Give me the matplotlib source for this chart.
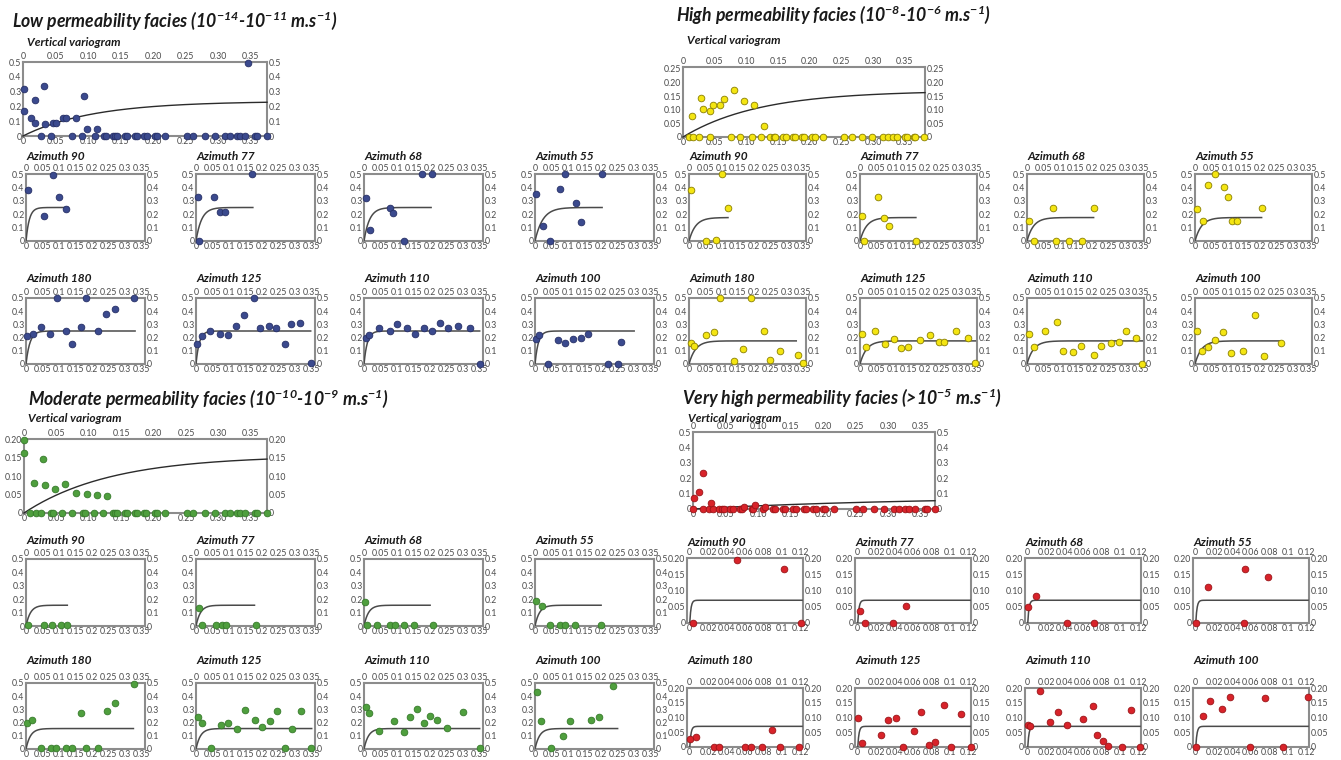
import matplotlib
matplotlib.use("Agg")
import matplotlib.pyplot as plt
import numpy as np

# ---------------- DATA ----------------
# Vertical variograms: non-zero experimental points + lags where the value is zero
low_vert_x = [0.002, 0.002, 0.012, 0.018, 0.019, 0.032, 0.034, 0.046, 0.050, 0.061, 0.066, 0.082, 0.094, 0.098, 0.114, 0.346]
low_vert_y = [0.32, 0.17, 0.12, 0.09, 0.24, 0.34, 0.08, 0.09, 0.09, 0.12, 0.12, 0.12, 0.27, 0.05, 0.05, 0.49]
low_vert_zero = [0.028, 0.043, 0.075, 0.090, 0.110, 0.124, 0.128, 0.139, 0.142, 0.145, 0.157, 0.160, 0.172, 0.175,
                 0.186, 0.190, 0.203, 0.206, 0.219, 0.252, 0.262, 0.280, 0.295, 0.311, 0.318, 0.329, 0.334, 0.341,
                 0.357, 0.359, 0.375]

high_vert_x = [0.014, 0.028, 0.031, 0.043, 0.047, 0.059, 0.064, 0.080, 0.097, 0.112, 0.128]
high_vert_y = [0.078, 0.144, 0.103, 0.094, 0.118, 0.118, 0.138, 0.172, 0.132, 0.118, 0.040]
high_vert_zero = [0.009, 0.016, 0.025, 0.042, 0.075, 0.090, 0.109, 0.123, 0.137, 0.143, 0.145, 0.158, 0.163, 0.173,
                  0.177, 0.188, 0.191, 0.204, 0.208, 0.221, 0.254, 0.266, 0.283, 0.299, 0.315, 0.323, 0.331, 0.338,
                  0.350, 0.354, 0.364, 0.367, 0.380]

mod_vert_x = [0.000, 0.000, 0.016, 0.029, 0.032, 0.048, 0.063, 0.080, 0.097, 0.112, 0.128]
mod_vert_y = [0.198, 0.162, 0.080, 0.145, 0.075, 0.064, 0.078, 0.053, 0.051, 0.050, 0.045]
mod_vert_zero = [0.009, 0.019, 0.026, 0.041, 0.044, 0.058, 0.074, 0.091, 0.094, 0.108, 0.122, 0.138, 0.140, 0.143,
                 0.156, 0.159, 0.171, 0.174, 0.185, 0.189, 0.202, 0.205, 0.218, 0.251, 0.261, 0.279, 0.295, 0.310,
                 0.318, 0.328, 0.333, 0.341, 0.357, 0.359, 0.375]

vh_vert_x = [0.001, 0.009, 0.015, 0.028, 0.078, 0.095, 0.110]
vh_vert_y = [0.071, 0.111, 0.233, 0.038, 0.011, 0.027, 0.016]
vh_vert_zero = [0.000, 0.015, 0.025, 0.031, 0.040, 0.044, 0.048, 0.057, 0.062, 0.073, 0.076, 0.090, 0.092, 0.107,
                0.123, 0.126, 0.138, 0.141, 0.154, 0.158, 0.170, 0.174, 0.185, 0.189, 0.200, 0.203, 0.217, 0.251,
                0.261, 0.278, 0.293, 0.309, 0.316, 0.326, 0.332, 0.341, 0.357, 0.359, 0.372]

# Vertical model (exponential): sill, practical range
vert_sill = {"low": 0.235, "high": 0.17, "mod": 0.155, "vh": 0.08}
vert_range = {"low": 0.32, "high": 0.36, "mod": 0.40, "vh": 1.0}

azimuths = [90, 77, 68, 55, 180, 125, 110, 100]

# Low permeability facies, azimuthal variograms
low_90_x = [0.005, 0.054, 0.083, 0.100, 0.120]
low_90_y = [0.38, 0.19, 0.49, 0.33, 0.24]
low_77_x = [0.005, 0.010, 0.053, 0.073, 0.088, 0.170]
low_77_y = [0.33, 0.00, 0.33, 0.22, 0.22, 0.50]
low_68_x = [0.007, 0.018, 0.078, 0.088, 0.120, 0.175, 0.205]
low_68_y = [0.32, 0.085, 0.245, 0.21, 0.00, 0.50, 0.50]
low_55_x = [0.003, 0.023, 0.044, 0.076, 0.091, 0.125, 0.139, 0.203]
low_55_y = [0.35, 0.11, 0.00, 0.39, 0.50, 0.28, 0.14, 0.50]
low_180_x = [0.002, 0.020, 0.046, 0.073, 0.093, 0.120, 0.140, 0.167, 0.180, 0.218, 0.243, 0.270, 0.327]
low_180_y = [0.21, 0.23, 0.28, 0.23, 0.50, 0.25, 0.15, 0.28, 0.50, 0.25, 0.38, 0.42, 0.50]
low_125_x = [0.002, 0.017, 0.043, 0.073, 0.096, 0.122, 0.144, 0.174, 0.195, 0.220, 0.241, 0.269, 0.286, 0.316, 0.347]
low_125_y = [0.15, 0.21, 0.25, 0.23, 0.22, 0.29, 0.37, 0.50, 0.27, 0.29, 0.27, 0.15, 0.30, 0.31, 0.01]
low_110_x = [0.005, 0.015, 0.045, 0.080, 0.100, 0.130, 0.155, 0.180, 0.205, 0.230, 0.255, 0.285, 0.320, 0.350]
low_110_y = [0.20, 0.22, 0.27, 0.25, 0.30, 0.27, 0.23, 0.27, 0.25, 0.31, 0.27, 0.29, 0.27, 0.00]
low_100_x = [0.003, 0.012, 0.040, 0.070, 0.090, 0.115, 0.140, 0.160, 0.220, 0.250, 0.260]
low_100_y = [0.19, 0.22, 0.00, 0.18, 0.16, 0.19, 0.20, 0.23, 0.00, 0.00, 0.17]

# High permeability facies
high_90_x = [0.005, 0.053, 0.083, 0.100, 0.120]
high_90_y = [0.38, 0.00, 0.005, 0.50, 0.25]
high_77_x = [0.005, 0.013, 0.054, 0.074, 0.089, 0.172]
high_77_y = [0.19, 0.00, 0.33, 0.17, 0.11, 0.00]
high_68_x = [0.005, 0.020, 0.080, 0.090, 0.130, 0.170, 0.205]
high_68_y = [0.15, 0.00, 0.25, 0.00, 0.00, 0.00, 0.25]
high_55_x = [0.005, 0.025, 0.040, 0.060, 0.090, 0.100, 0.115, 0.130, 0.205]
high_55_y = [0.24, 0.15, 0.42, 0.50, 0.40, 0.33, 0.15, 0.15, 0.25]
high_180_x = [0.005, 0.015, 0.053, 0.078, 0.096, 0.137, 0.165, 0.190, 0.230, 0.250, 0.280, 0.335, 0.350]
high_180_y = [0.16, 0.14, 0.22, 0.24, 0.50, 0.02, 0.11, 0.50, 0.25, 0.03, 0.10, 0.07, 0.01]
high_125_x = [0.006, 0.020, 0.047, 0.078, 0.106, 0.127, 0.149, 0.186, 0.214, 0.242, 0.260, 0.295, 0.332, 0.354]
high_125_y = [0.23, 0.13, 0.25, 0.15, 0.19, 0.12, 0.13, 0.18, 0.22, 0.17, 0.17, 0.25, 0.20, 0.01]
high_110_x = [0.006, 0.020, 0.056, 0.093, 0.112, 0.143, 0.165, 0.205, 0.227, 0.258, 0.283, 0.304, 0.335, 0.354]
high_110_y = [0.23, 0.13, 0.25, 0.32, 0.10, 0.09, 0.14, 0.07, 0.14, 0.16, 0.17, 0.25, 0.20, 0.00]
high_100_x = [0.006, 0.020, 0.040, 0.062, 0.087, 0.112, 0.149, 0.186, 0.211, 0.264]
high_100_y = [0.25, 0.10, 0.13, 0.18, 0.24, 0.08, 0.10, 0.37, 0.06, 0.16]

# Moderate permeability facies
mod_90_x = [0.005, 0.055, 0.080, 0.105, 0.125]
mod_90_y = [0.01, 0.01, 0.01, 0.01, 0.01]
mod_77_x = [0.010, 0.018, 0.060, 0.078, 0.090, 0.180]
mod_77_y = [0.135, 0.01, 0.01, 0.01, 0.01, 0.01]
mod_68_x = [0.004, 0.008, 0.040, 0.080, 0.095, 0.120, 0.150, 0.210]
mod_68_y = [0.18, 0.01, 0.01, 0.01, 0.01, 0.01, 0.01, 0.01]
mod_55_x = [0.004, 0.020, 0.045, 0.075, 0.090, 0.120, 0.200]
mod_55_y = [0.19, 0.15, 0.01, 0.01, 0.01, 0.01, 0.01]
mod_180_x = [0.003, 0.017, 0.046, 0.075, 0.092, 0.122, 0.140, 0.165, 0.183, 0.218, 0.245, 0.270, 0.328]
mod_180_y = [0.20, 0.22, 0.01, 0.01, 0.01, 0.01, 0.01, 0.27, 0.01, 0.01, 0.29, 0.345, 0.495]
mod_125_x = [0.005, 0.017, 0.046, 0.076, 0.098, 0.125, 0.147, 0.177, 0.199, 0.223, 0.245, 0.270, 0.290, 0.317, 0.348]
mod_125_y = [0.245, 0.20, 0.01, 0.18, 0.195, 0.15, 0.295, 0.22, 0.17, 0.21, 0.29, 0.01, 0.15, 0.29, 0.01]
mod_110_x = [0.005, 0.015, 0.045, 0.090, 0.120, 0.140, 0.160, 0.180, 0.200, 0.220, 0.250, 0.300, 0.350]
mod_110_y = [0.32, 0.27, 0.14, 0.21, 0.13, 0.24, 0.30, 0.20, 0.25, 0.22, 0.16, 0.28, 0.01]
mod_100_x = [0.006, 0.018, 0.049, 0.086, 0.107, 0.168, 0.193, 0.235]
mod_100_y = [0.43, 0.21, 0.01, 0.10, 0.21, 0.22, 0.24, 0.48]

# Very high permeability facies
vh_90_x = [0.003, 0.051, 0.102, 0.121]
vh_90_y = [0.000, 0.195, 0.165, 0.000]
vh_77_x = [0.0025, 0.008, 0.038, 0.052]
vh_77_y = [0.036, 0.000, 0.000, 0.053]
vh_68_x = [0.000, 0.009, 0.043, 0.072]
vh_68_y = [0.050, 0.083, 0.000, 0.000]
vh_55_x = [0.000, 0.013, 0.052, 0.054, 0.078]
vh_55_y = [0.000, 0.110, 0.000, 0.165, 0.143]
vh_180_x = [0.000, 0.007, 0.026, 0.032, 0.060, 0.066, 0.079, 0.089, 0.098, 0.119]
vh_180_y = [0.028, 0.033, 0.000, 0.000, 0.000, 0.000, 0.000, 0.059, 0.000, 0.000]
vh_125_x = [0.000, 0.005, 0.025, 0.033, 0.042, 0.049, 0.061, 0.069, 0.077, 0.084, 0.094, 0.101, 0.112, 0.123]
vh_125_y = [0.099, 0.014, 0.039, 0.092, 0.097, 0.000, 0.054, 0.118, 0.007, 0.018, 0.141, 0.000, 0.111, 0.000]
vh_110_x = [0.000, 0.002, 0.013, 0.024, 0.033, 0.043, 0.060, 0.071, 0.075, 0.082, 0.087, 0.102, 0.112, 0.122]
vh_110_y = [0.075, 0.070, 0.190, 0.085, 0.120, 0.075, 0.095, 0.140, 0.040, 0.020, 0.005, 0.000, 0.125, 0.000]
vh_100_x = [0.000, 0.008, 0.015, 0.028, 0.037, 0.059, 0.075, 0.095, 0.122]
vh_100_y = [0.000, 0.105, 0.155, 0.130, 0.170, 0.000, 0.165, 0.000, 0.170]

# Azimuthal model parameters: sill, practical range per direction, maximum lag of model line
az_sill = {"low": 0.25, "high": 0.175, "mod": 0.155, "vh": 0.07}
low_az_range = [0.03, 0.05, 0.05, 0.07, 0.035, 0.03, 0.03, 0.03]
high_az_range = [0.06, 0.06, 0.06, 0.06, 0.06, 0.06, 0.06, 0.06]
mod_az_range = [0.04, 0.04, 0.04, 0.04, 0.04, 0.04, 0.04, 0.04]
vh_az_range = [0.004, 0.004, 0.004, 0.004, 0.004, 0.004, 0.004, 0.004]
low_az_end = [0.127, 0.172, 0.203, 0.203, 0.330, 0.347, 0.350, 0.300]
high_az_end = [0.120, 0.172, 0.205, 0.205, 0.330, 0.355, 0.355, 0.260]
mod_az_end = [0.125, 0.177, 0.200, 0.200, 0.325, 0.350, 0.350, 0.250]
vh_az_end = [0.122] * 8

# Tick labels
vert_xticks = [0, 0.05, 0.10, 0.15, 0.20, 0.25, 0.30, 0.35]
vert_xlabels = ["0", "0.05", "0.10", "0.15", "0.20", "0.25", "0.30", "0.35"]
az_xticks = [0, 0.05, 0.1, 0.15, 0.2, 0.25, 0.3, 0.35]
az_xlabels = ["0", "0.05", "0.1", "0.15", "0.2", "0.25", "0.3", "0.35"]
vh_az_xticks = [0, 0.02, 0.04, 0.06, 0.08, 0.10, 0.12]
vh_az_xlabels = ["0", "0.02", "0.04", "0.06", "0.08", "0.1", "0.12"]
y05_ticks = [0, 0.1, 0.2, 0.3, 0.4, 0.5]
y05_labels = ["0", "0.1", "0.2", "0.3", "0.4", "0.5"]
y025_ticks = [0, 0.05, 0.10, 0.15, 0.20, 0.25]
y025_labels = ["0", "0.05", "0.10", "0.15", "0.20", "0.25"]
y02_ticks = [0, 0.05, 0.10, 0.15, 0.20]
y02_labels = ["0", "0.05", "0.10", "0.15", "0.20"]

titles = {
    "low": r"Low permeability facies (10$^{-14}$-10$^{-11}$ m.s$^{-1}$)",
    "high": r"High permeability facies (10$^{-8}$-10$^{-6}$ m.s$^{-1}$)",
    "mod": r"Moderate permeability facies (10$^{-10}$-10$^{-9}$ m.s$^{-1}$)",
    "vh": r"Very high permeability facies (>10$^{-5}$ m.s$^{-1}$)",
}

# ---------------- STYLE ----------------
plt.rcParams["font.family"] = ["Lato", "DejaVu Sans"]
plt.rcParams["mathtext.fontset"] = "custom"
plt.rcParams["mathtext.rm"] = "Lato:italic:bold"
plt.rcParams["mathtext.it"] = "Lato:italic:bold"
plt.rcParams["mathtext.bf"] = "Lato:italic:bold"

colors = {
    "low": ("#3b4a8e", "#262f66"),
    "high": ("#f4e512", "#8a7f00"),
    "mod": ("#4f9f3e", "#367a2a"),
    "vh": ("#d8232a", "#9a1418"),
}

W, H = 1341, 760
fig = plt.figure(figsize=(W / 100, H / 100), dpi=100)
fig.patch.set_facecolor("white")


def px_axes(x0, y0, x1, y1):
    return fig.add_axes([x0 / W, 1 - y1 / H, (x1 - x0) / W, (y1 - y0) / H])


def ftext(x, y, s, size, color="#1a1a1a"):
    fig.text(x / W, 1 - y / H, s, fontsize=size, fontweight="bold", fontstyle="italic",
             color=color, ha="left", va="center")


def style(ax, xlim, ylim, xt, xl, yt, yl):
    ax.set_xlim(*xlim)
    ax.set_ylim(*ylim)
    ax.set_xticks(xt)
    ax.set_xticklabels(xl)
    ax.set_yticks(yt)
    ax.set_yticklabels(yl)
    ax.tick_params(axis="both", length=0, pad=1.0, labelsize=6.3, labelcolor="#4a4a4a",
                   top=True, right=True, labeltop=True, labelright=True)
    for s in ax.spines.values():
        s.set_color("#8c8c8c")
        s.set_linewidth(1.5)
    ax.set_facecolor("white")


def model(h, sill, rng):
    return sill * (1 - np.exp(-3 * h / rng))


def dots(ax, x, y, key):
    fc, ec = colors[key]
    ax.plot(x, y, "o", ms=4.8, mfc=fc, mec=ec, mew=0.6, clip_on=False, zorder=4, ls="none")


vert_data = {
    "low": (low_vert_x, low_vert_y, low_vert_zero),
    "high": (high_vert_x, high_vert_y, high_vert_zero),
    "mod": (mod_vert_x, mod_vert_y, mod_vert_zero),
    "vh": (vh_vert_x, vh_vert_y, vh_vert_zero),
}
az_data = {
    "low": [(low_90_x, low_90_y), (low_77_x, low_77_y), (low_68_x, low_68_y), (low_55_x, low_55_y),
            (low_180_x, low_180_y), (low_125_x, low_125_y), (low_110_x, low_110_y), (low_100_x, low_100_y)],
    "high": [(high_90_x, high_90_y), (high_77_x, high_77_y), (high_68_x, high_68_y), (high_55_x, high_55_y),
             (high_180_x, high_180_y), (high_125_x, high_125_y), (high_110_x, high_110_y), (high_100_x, high_100_y)],
    "mod": [(mod_90_x, mod_90_y), (mod_77_x, mod_77_y), (mod_68_x, mod_68_y), (mod_55_x, mod_55_y),
            (mod_180_x, mod_180_y), (mod_125_x, mod_125_y), (mod_110_x, mod_110_y), (mod_100_x, mod_100_y)],
    "vh": [(vh_90_x, vh_90_y), (vh_77_x, vh_77_y), (vh_68_x, vh_68_y), (vh_55_x, vh_55_y),
           (vh_180_x, vh_180_y), (vh_125_x, vh_125_y), (vh_110_x, vh_110_y), (vh_100_x, vh_100_y)],
}
az_ranges = {"low": low_az_range, "high": high_az_range, "mod": mod_az_range, "vh": vh_az_range}
az_ends = {"low": low_az_end, "high": high_az_end, "mod": mod_az_end, "vh": vh_az_end}

# Layout (pixels)
layout = {
    "low": dict(title=(12, 21), vt=(27, 43), vbox=(23, 62, 267, 136), vxlim=(0, 0.375), vylim=(0, 0.5),
                vyt=(y05_ticks, y05_labels),
                cols=[26, 196, 364, 535], w=119,
                rows=[(157, 174, 241), (278, 298, 364)]),
    "high": dict(title=(676, 15), vt=(687, 40), vbox=(683, 67, 925, 137), vxlim=(0, 0.382), vylim=(0, 0.257),
                 vyt=(y025_ticks, y025_labels),
                 cols=[689, 860, 1027, 1195], w=117,
                 rows=[(157, 174, 241), (278, 298, 364)]),
    "mod": dict(title=(28, 399), vt=(28, 418), vbox=(24, 439, 267, 513), vxlim=(0, 0.375), vylim=(0, 0.2),
                vyt=(y02_ticks, y02_labels),
                cols=[26, 196, 364, 535], w=119,
                rows=[(541, 559, 626), (660, 683, 749)]),
    "vh": dict(title=(682, 398), vt=(688, 418), vbox=(693, 432, 935, 509), vxlim=(0, 0.372), vylim=(0, 0.5),
               vyt=(y05_ticks, y05_labels),
               cols=[687, 855, 1025, 1193], w=116,
               rows=[(542, 558, 623), (660, 688, 747)]),
}

for key, L in layout.items():
    ftext(L["title"][0], L["title"][1], titles[key], 12.7)
    ftext(L["vt"][0], L["vt"][1], "Vertical variogram", 8.6)

    # vertical variogram
    ax = px_axes(*L["vbox"])
    style(ax, L["vxlim"], L["vylim"], vert_xticks, vert_xlabels, L["vyt"][0], L["vyt"][1])
    vx, vy, vz = vert_data[key]
    h = np.linspace(0, L["vxlim"][1], 300)
    ax.plot(h, model(h, vert_sill[key], vert_range[key]), color="#2b2b2b", lw=1.0, zorder=3, clip_on=False)
    dots(ax, vz, np.zeros(len(vz)), key)
    dots(ax, vx, vy, key)

    # azimuthal variograms
    for i, az in enumerate(azimuths):
        r = 0 if i < 4 else 1
        c = i % 4
        ty, y0, y1 = L["rows"][r]
        x0 = L["cols"][c]
        ftext(x0, ty, f"Azimuth {az}", 8.6)
        ax = px_axes(x0, y0, x0 + L["w"], y1)
        if key == "vh":
            style(ax, (-0.003, 0.123), (0, 0.2), vh_az_xticks, vh_az_xlabels, y02_ticks, y02_labels)
        else:
            style(ax, (0, 0.36), (0, 0.5), az_xticks, az_xlabels, y05_ticks, y05_labels)
        hh = np.linspace(0, az_ends[key][i], 300)
        ax.plot(hh, model(hh, az_sill[key], az_ranges[key][i]), color="#4a4a4a", lw=1.1, zorder=3)
        px, py = az_data[key][i]
        dots(ax, px, py, key)

fig.savefig("out.png", dpi=100, facecolor="white")
